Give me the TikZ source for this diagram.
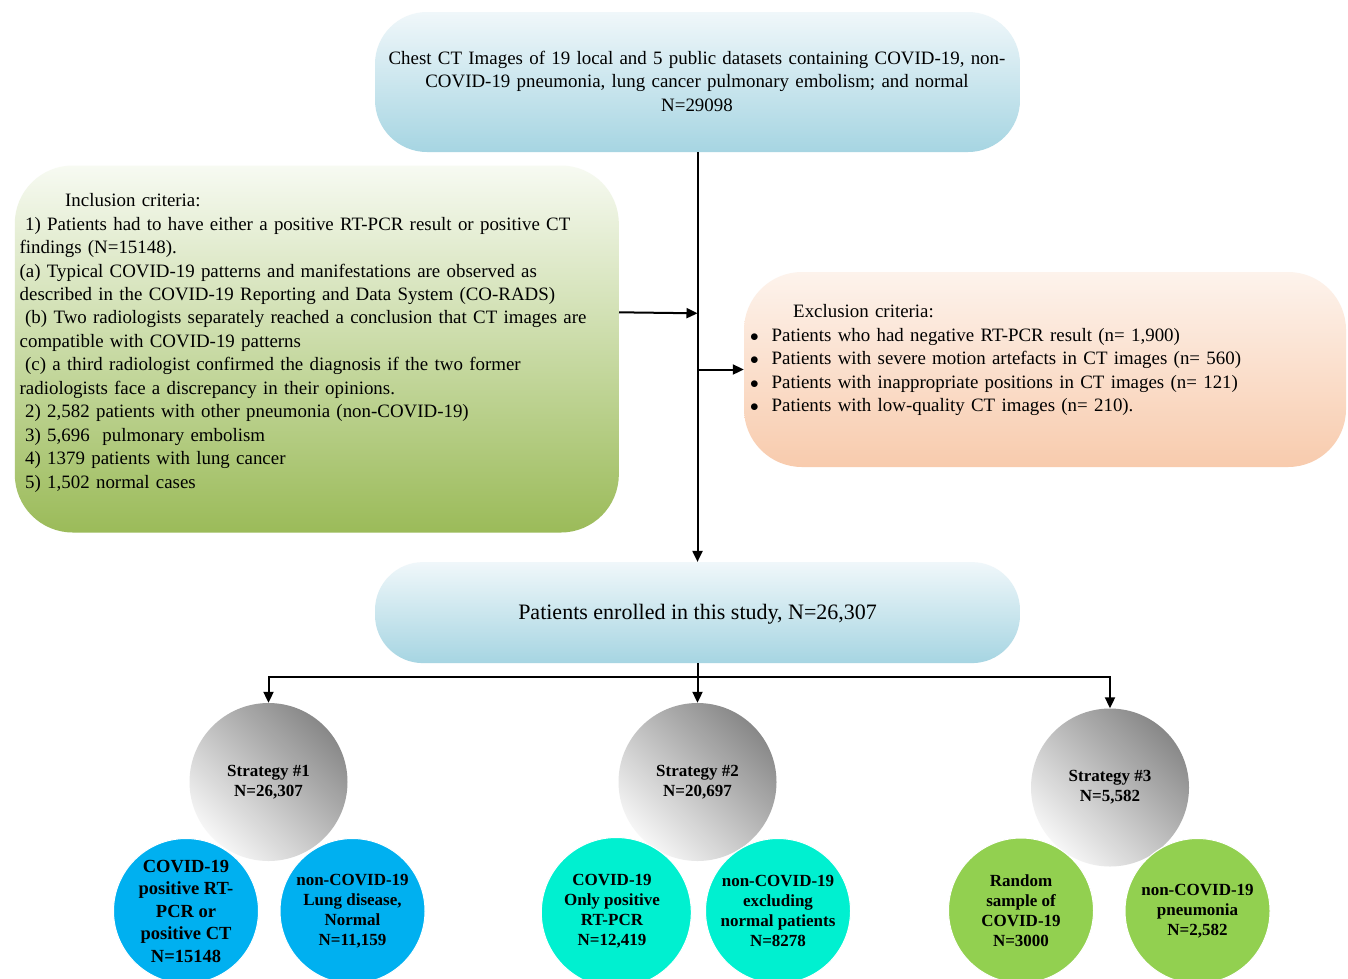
\documentclass[tikz,border=0pt]{standalone}
\usepackage{fontspec}
\setmainfont{Liberation Serif}
\usetikzlibrary{arrows.meta}
\definecolor{pillTop}{RGB}{240,247,250}
\definecolor{pillBot}{RGB}{166,213,226}
\definecolor{grnTop}{RGB}{247,250,242}
\definecolor{grnBot}{RGB}{155,187,89}
\definecolor{pchTop}{RGB}{253,243,236}
\definecolor{pchBot}{RGB}{248,203,173}
\definecolor{grayDark}{RGB}{136,136,136}
\definecolor{grayLight}{RGB}{246,246,246}
\definecolor{cBlue}{RGB}{0,176,240}
\definecolor{cTeal}{RGB}{0,240,208}
\definecolor{cGreen}{RGB}{146,208,80}
\newcommand{\myind}{\hspace*{5.5pt}}
\newcommand{\mybul}{\makebox[20.4pt][l]{\hspace*{-1pt}$\bullet$}}
\begin{document}
\begin{tikzpicture}[x=1pt,y=-1pt,
  box/.style={rectangle, inner sep=0pt, draw=none},
  txt/.style={inner sep=0pt, font=\fontsize{18.9}{23.45}\selectfont},
  arr/.style={line width=2pt, -{Triangle[length=11pt,width=10pt]}},
  ln/.style={line width=2pt},
  stratc/.style={circle, minimum size=158pt, inner sep=0pt, top color=grayDark, bottom color=grayLight, shading angle=-45, align=center, font=\bfseries\fontsize{17}{20}\selectfont},
  kid/.style={circle, minimum size=145pt, inner sep=0pt, draw=white, line width=1pt, fill=#1},
  ctext/.style={inner sep=0pt, align=center, font=\bfseries\fontsize{17}{20}\selectfont}
]
\fill[white] (0,0) rectangle (1348,978);
\useasboundingbox (0,0) rectangle (1348,978);

% boxes
\node[box, rounded corners=52pt, minimum width=645pt, minimum height=140pt,
      top color=pillTop, bottom color=pillBot] (src) at (697.5,82) {};
\node[txt, anchor=base, text width=640pt, align=center] (srctxt) at (697,64.3)
 {Chest CT Images of 19 local and 5 public datasets containing COVID-19, non-\\
  COVID-19 pneumonia, lung cancer pulmonary embolism; and normal\\
  N=29098};

\node[box, rounded corners=58pt, minimum width=604pt, minimum height=367pt,
      top color=grnTop, bottom color=grnBot] (incl) at (316.8,349) {};
\node[txt, anchor=base west, text width=595pt, align=left] (incltxt) at (19.5,206.7)
 {\hspace*{45.5pt}Inclusion criteria:\\
  \myind 1) Patients had to have either a positive RT-PCR result or positive CT\\
  findings (N=15148).\\
  (a) Typical COVID-19 patterns and manifestations are observed as\\
  described in the COVID-19 Reporting and Data System (CO-RADS)\\
  \myind (b) Two radiologists separately reached a conclusion that CT images are\\
  compatible with COVID-19 patterns\\
  \myind (c) a third radiologist confirmed the diagnosis if the two former\\
  radiologists face a discrepancy in their opinions.\\
  \myind 2) 2,582 patients with other pneumonia (non-COVID-19)\\
  \myind 3) 5,696\ \ pulmonary embolism\\
  \myind 4) 1379 patients with lung cancer\\
  \myind 5) 1,502 normal cases};

\node[box, rounded corners=58pt, minimum width=602pt, minimum height=195pt,
      top color=pchTop, bottom color=pchBot] (excl) at (1045,369.5) {};
\node[txt, anchor=base west, text width=590pt, align=left] (excltxt) at (751,317.7)
 {\hspace*{42pt}Exclusion criteria:\\
  \mybul Patients who had negative RT-PCR result (n= 1,900)\\
  \mybul Patients with severe motion artefacts in CT images (n= 560)\\
  \mybul Patients with inappropriate positions in CT images (n= 121)\\
  \mybul Patients with low-quality CT images (n= 210).};

\node[box, rounded corners=48pt, minimum width=645pt, minimum height=101pt,
      top color=pillTop, bottom color=pillBot] (enr) at (697.5,612.6) {};
\node[inner sep=0pt, anchor=base, font=\fontsize{22}{26}\selectfont] (enrtxt) at (697.6,619.3)
 {Patients enrolled in this study, N=26,307};

% strategy circles
\node[stratc] (s1) at (268.5,782) {Strategy \#1\\N=26,307};
\node[stratc] (s2) at (697.5,782) {Strategy \#2\\N=20,697};
\node[stratc] (s3) at (1110,787.5) {Strategy \#3\\N=5,582};

% child circles
\node[kid=cBlue] (c1) at (186,911) {};
\node[ctext, font=\bfseries\fontsize{18.5}{22.5}\selectfont] (c1t) at (c1.center)
 {COVID-19\\positive RT-\\PCR or\\positive CT\\N=15148};
\node[kid=cBlue] (c2) at (352.5,911) {};
\node[ctext] (c2t) at (c2.center) {non-COVID-19\\Lung disease,\\Normal\\N=11,159};
\node[kid=cTeal, minimum size=150pt] (c3) at (616.3,912.5) {};
\node[ctext] (c3t) at (612,911) {COVID-19\\Only positive\\RT-PCR\\N=12,419};
\node[kid=cTeal] (c4) at (778,911) {};
\node[ctext] (c4t) at (c4.center) {non-COVID-19\\excluding\\normal patients\\N=8278};
\node[kid=cGreen] (c5) at (1021,910.5) {};
\node[ctext] (c5t) at (c5.center) {Random\\sample of\\COVID-19\\N=3000};
\node[kid=cGreen] (c6) at (1197.5,911) {};
\node[ctext] (c6t) at (c6.center) {non-COVID-19\\pneumonia\\N=2,582};

% connectors
\coordinate (yIn) at (0,312.3);
\coordinate (inS) at (incl.east |- yIn);
\coordinate (inT) at (697.5,313.3);
\coordinate (exS) at (697.5,369.5);
\coordinate (bM) at (697.5,676.7);

\draw[arr] (src.south) -- (enr.north);
\draw[arr] (inS) -- (inT);
\draw[arr] (exS) -- (excl.west);
\draw[arr] (enr.south) -- (s2.north);
\draw[arr] (bM) -| (s1.north);
\draw[arr] (bM) -| (s3.north);
\end{tikzpicture}
\end{document}
